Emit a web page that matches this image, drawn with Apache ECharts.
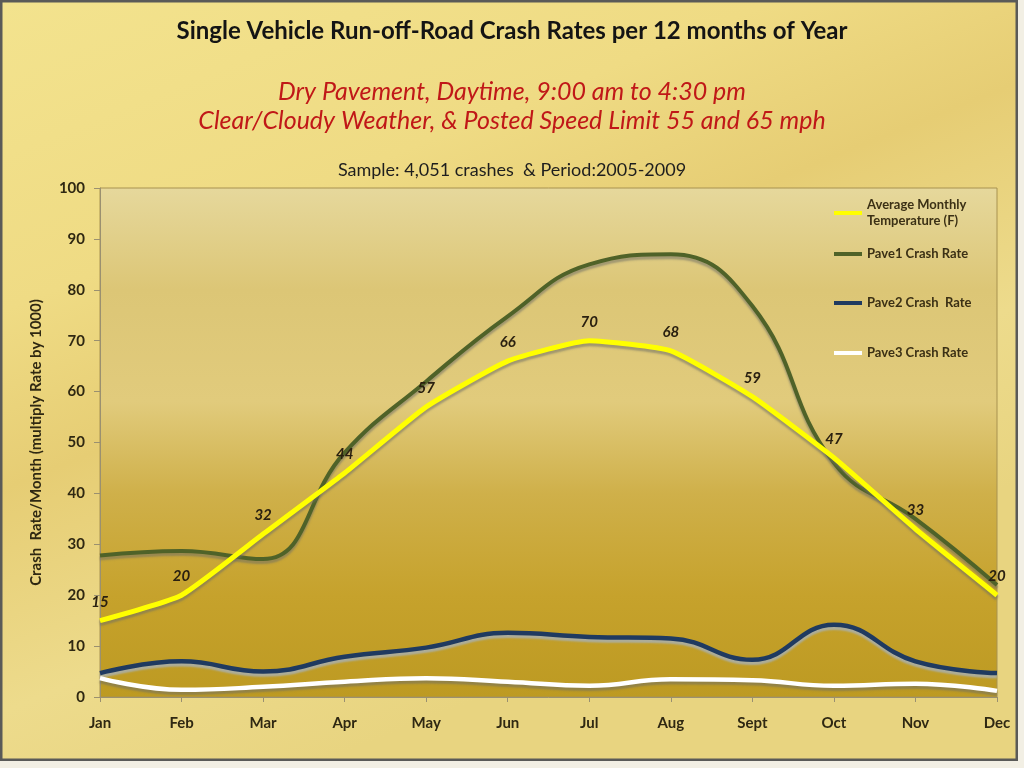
<!DOCTYPE html>
<html>
<head>
<meta charset="utf-8">
<script src="https://cdn.jsdelivr.net/npm/echarts@6/dist/echarts.min.js"></script>
<style>
html,body{margin:0;padding:0;background:#f2efe4;}
#chart{width:1024px;height:768px;}
</style>
</head>
<body>
<div id="chart"></div>
<script>
const months = ['Jan','Feb','Mar','Apr','May','Jun','Jul','Aug','Sept','Oct','Nov','Dec'];
const temperature = [15, 20, 32, 44, 57, 66, 70, 68, 59, 47, 33, 20];
const pave1 = [27.8, 28.7, 27.1, 48, 62, 74.8, 85, 87, 76.8, 46, 35, 22];
const pave2 = [4.7, 7.0, 5.0, 7.9, 9.7, 12.6, 11.8, 11.5, 7.3, 14.2, 7.0, 4.7];
const pave3 = [3.7, 1.4, 2.0, 3.0, 3.7, 3.0, 2.2, 3.5, 3.3, 2.2, 2.6, 1.2];
const yTicks = {min: 0, max: 100, interval: 10};
const names = ['Average Monthly Temperature (F)', 'Pave1 Crash Rate', 'Pave2 Crash  Rate', 'Pave3 Crash Rate'];

const chart = echarts.init(document.getElementById('chart'));
const font = 'Lato, "Open Sans", sans-serif';
const shadow = {shadowColor: 'rgba(110,110,100,0.55)', shadowBlur: 2, shadowOffsetY: 3};
const legendText = {fontFamily: font, fontWeight: 'bold', fontSize: 13, color: '#3b3015', lineHeight: 16};
function legendAt(name, top) {
  return {
    data: [name], left: 829, top: top, orient: 'vertical', itemWidth: 28, itemHeight: 4,
    itemGap: 0, textStyle: legendText, icon: 'rect',
    formatter: n => n === names[0] ? 'Average Monthly\nTemperature (F)' : n
  };
}
const redText = {fontFamily: font, fontStyle: 'italic', fontWeight: 'normal', fontSize: 25, color: '#c01818'};
chart.setOption({
  animation: false,
  backgroundColor: {
    type: 'linear', x: 0, y: 0, x2: 0.3, y2: 1,
    colorStops: [
      {offset: 0, color: '#f3e38e'},
      {offset: 0.35, color: '#efdb84'},
      {offset: 0.55, color: '#e6cd74'},
      {offset: 0.8, color: '#eddb8c'},
      {offset: 1, color: '#e8d480'}
    ]
  },
  graphic: [
    {type: 'rect', shape: {x: 1, y: 1, width: 1016, height: 759}, style: {fill: 'none', stroke: '#5a5a58', lineWidth: 3}, z: 100},
    {type: 'rect', shape: {x: 0, y: 761, width: 1024, height: 7}, style: {fill: '#f2efe4'}, z: 100},
    {type: 'rect', shape: {x: 1018, y: 0, width: 6, height: 768}, style: {fill: '#f2efe4'}, z: 100}
  ],
  title: [
    {text: 'Single Vehicle Run-off-Road Crash Rates per 12 months of Year', left: 'center', top: 14,
     textStyle: {fontFamily: font, fontWeight: 'bold', fontSize: 24, color: '#141414'}},
    {text: 'Dry Pavement, Daytime, 9:00 am to 4:30 pm', left: 'center', top: 74, textStyle: redText},
    {text: 'Clear/Cloudy Weather, & Posted Speed Limit 55 and 65 mph', left: 'center', top: 103, textStyle: redText},
    {text: 'Sample: 4,051 crashes  & Period:2005-2009', left: 'center', top: 156,
     textStyle: {fontFamily: font, fontWeight: 'normal', fontSize: 18, color: '#1e1e1e'}}
  ],
  legend: [
    legendAt(names[0], 192),
    legendAt(names[1], 241),
    legendAt(names[2], 290),
    legendAt(names[3], 340)
  ],
  grid: {
    left: 100, right: 27, top: 188, bottom: 71, show: true,
    borderColor: '#a89250', borderWidth: 1,
    backgroundColor: {
      type: 'linear', x: 0, y: 0, x2: 0, y2: 1,
      colorStops: [
        {offset: 0, color: '#e6d89c'},
        {offset: 0.2, color: '#dcc676'},
        {offset: 0.42, color: '#e1cb7c'},
        {offset: 0.6, color: '#cfb04a'},
        {offset: 0.8, color: '#c6a22c'},
        {offset: 1, color: '#bd9a22'}
      ]
    }
  },
  xAxis: {
    type: 'category', data: months, boundaryGap: false,
    axisLine: {lineStyle: {color: '#9a9070', width: 1}},
    axisTick: {show: true, length: 5, lineStyle: {color: '#9a9070'}},
    axisLabel: {fontFamily: font, fontWeight: 'bold', fontSize: 15, color: '#2f2812', margin: 19}
  },
  yAxis: {
    type: 'value', min: yTicks.min, max: yTicks.max, interval: yTicks.interval,
    name: 'Crash  Rate/Month (multiply Rate by 1000)', nameLocation: 'middle', nameGap: 56, nameRotate: 90,
    nameTextStyle: {fontFamily: font, fontWeight: 'bold', fontSize: 15, color: '#2f2812'},
    axisLine: {show: true, lineStyle: {color: '#9a9070'}},
    axisTick: {show: true, length: 6, lineStyle: {color: '#9a9070'}},
    splitLine: {show: false},
    axisLabel: {fontFamily: font, fontWeight: 'bold', fontSize: 15, color: '#2f2812', margin: 15}
  },
  series: [
    {name: names[0], type: 'line', data: temperature, smooth: 0.15, symbol: 'circle', symbolSize: 0.1, showSymbol: true, z: 4,
     itemStyle: {color: '#ffff00'},
     lineStyle: Object.assign({color: '#ffff00', width: 5}, shadow),
     label: {show: true, position: 'top', distance: 11, fontFamily: font, fontStyle: 'italic', fontWeight: 'bold', fontSize: 15, color: '#2a2010'},
     labelLayout: {hideOverlap: false}},
    {name: names[1], type: 'line', data: pave1, smooth: 0.45, symbol: 'none', z: 3,
     itemStyle: {color: '#4f6228'},
     lineStyle: Object.assign({color: '#4f6228', width: 4}, shadow)},
    {name: names[2], type: 'line', data: pave2, smooth: 0.45, symbol: 'none', z: 3,
     itemStyle: {color: '#1f3a60'},
     lineStyle: Object.assign({color: '#1f3a60', width: 4.5}, {shadowColor: 'rgba(170,175,170,0.9)', shadowBlur: 2, shadowOffsetY: 3})},
    {name: names[3], type: 'line', data: pave3, smooth: 0.45, symbol: 'none', z: 3,
     itemStyle: {color: '#ffffff'},
     lineStyle: Object.assign({color: '#ffffff', width: 4.5}, shadow)}
  ]
});
</script>
</body>
</html>
